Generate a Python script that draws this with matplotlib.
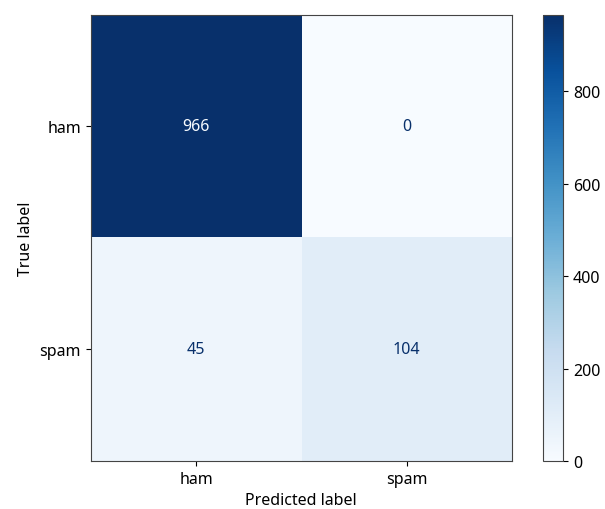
import matplotlib
matplotlib.use("Agg")
import matplotlib.pyplot as plt
import numpy as np

plt.rcParams["font.family"] = ["Noto Sans", "DejaVu Sans"]
plt.rcParams["font.size"] = 11.5

labels = ["ham", "spam"]
row_ham = [966, 0]
row_spam = [45, 104]

cm = np.array([row_ham, row_spam])
cmap = plt.get_cmap("Blues")

fig = plt.figure(figsize=(6.05, 5.10), dpi=100)
ax = fig.add_axes([0.150, 0.094, 0.696, 0.875])
cax = fig.add_axes([0.897, 0.094, 0.034, 0.875])

im = ax.imshow(cm, interpolation="nearest", cmap=cmap, aspect="auto",
               vmin=cm.min(), vmax=cm.max())
thresh = (cm.max() + cm.min()) / 2.0
for i in range(cm.shape[0]):
    for j in range(cm.shape[1]):
        color = cmap(0.0) if cm[i, j] >= thresh else cmap(1.0)
        ax.text(j, i, format(cm[i, j], "d"), ha="center", va="center",
                color=color)

ax.set_xticks(range(len(labels)))
ax.set_xticklabels(labels)
ax.set_yticks(range(len(labels)))
ax.set_yticklabels(labels)
ax.set_xlabel("Predicted label")
ax.set_ylabel("True label")
ax.set_ylim(len(labels) - 0.5, -0.5)
for s in ax.spines.values():
    s.set_edgecolor("#444444")

cb = fig.colorbar(im, cax=cax)
cb.set_ticks([0, 200, 400, 600, 800])
cb.outline.set_edgecolor("#444444")

fig.savefig("out.png", dpi=100)
